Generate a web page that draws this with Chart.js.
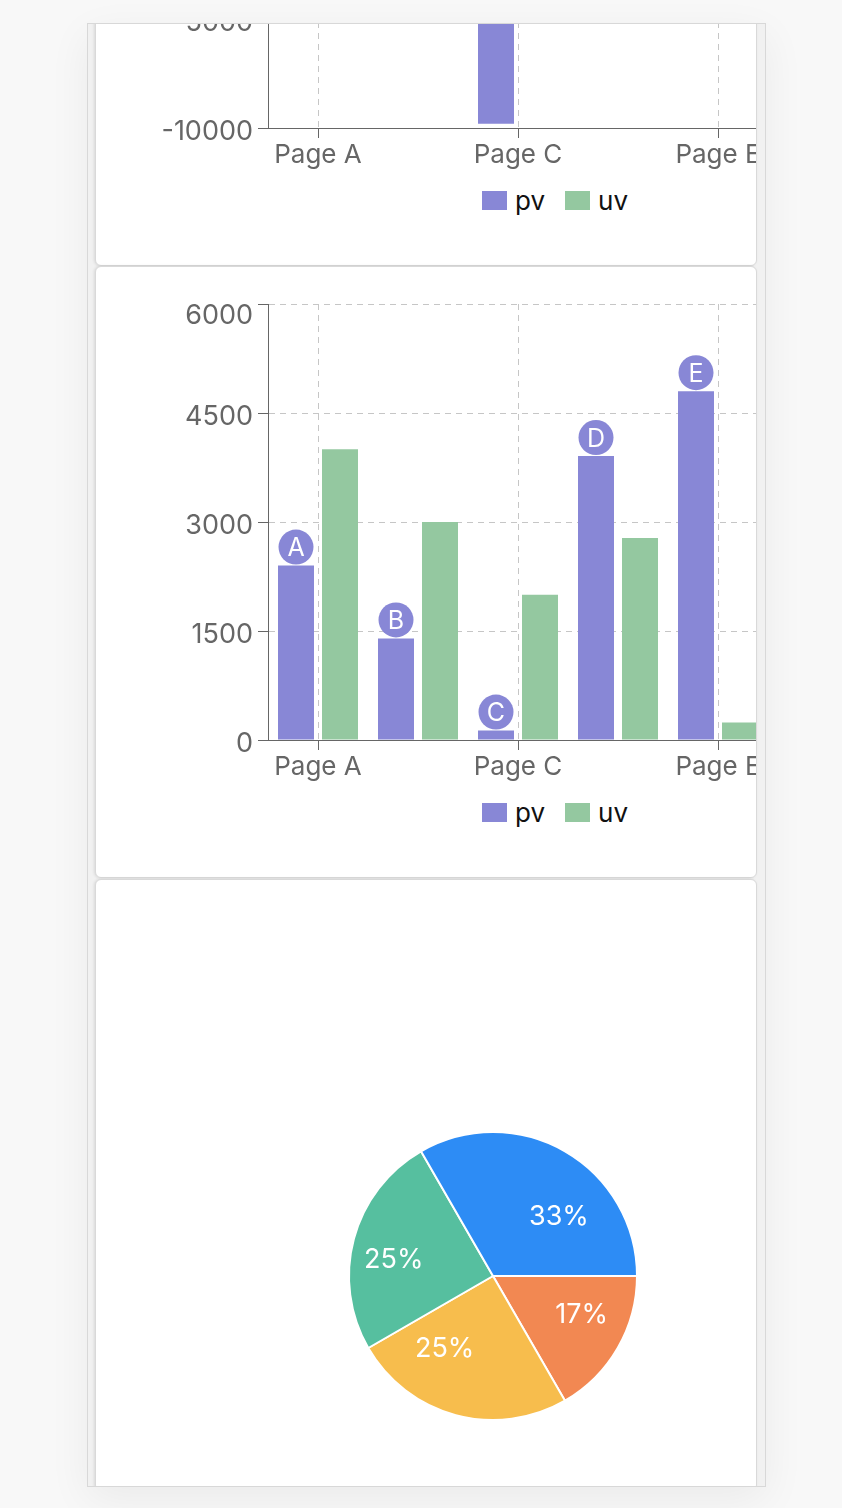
<!DOCTYPE html>
<html>
<head>
<meta charset="utf-8">
<script src="https://cdn.jsdelivr.net/npm/chart.js@4.4.1/dist/chart.umd.min.js"></script>
<style>
  html, body { margin:0; padding:0; width:842px; height:1508px; overflow:hidden; background:#f8f8f8; font-family: Inter, "Noto Sans", sans-serif; }
  #frame { position:absolute; left:87px; top:23px; width:677px; height:1462px; border:1px solid #d8d8d8; background:#f1f1f1; overflow:hidden; box-shadow:0 12px 40px rgba(0,0,0,0.06); }
  .card { position:absolute; left:7px; width:662px; height:612px; box-sizing:border-box; border:1px solid #d9d9d9; border-radius:6px; background:#fff; overflow:hidden; box-shadow:-1px 0 3px rgba(0,0,0,0.10); }
  .card canvas { position:absolute; }
  .legend { position:absolute; left:386px; top:530px; height:30px; display:flex; align-items:center; font-size:26px; color:#111; white-space:nowrap; }
  .legend .sq { display:inline-block; width:25px; height:19px; margin-right:8px; }
  .legend .item { display:flex; align-items:center; margin-right:20px; }
</style>
</head>
<body>
<div id="frame">
  <div class="card" id="card1" style="top:-370px;">
    <canvas id="c1" width="700" height="506" style="left:0;top:17px;"></canvas>
    <div class="legend" id="lg1"></div>
  </div>
  <div class="card" id="card2" style="top:242px;">
    <canvas id="c2" width="700" height="506" style="left:0;top:17px;"></canvas>
    <div class="legend" id="lg2"></div>
  </div>
  <div class="card" id="card3" style="top:855px;">
    <canvas id="c3" width="400" height="400" style="left:197px;top:196px;"></canvas>
  </div>
</div>
<script>
// ---------- data ----------
const categories = ['Page A', 'Page B', 'Page C', 'Page D', 'Page E'];
const seriesNames = ['pv', 'uv'];
// top (partly scrolled) chart
const topPv = [2400, 1398, -9800, 3908, 4800];
const topUv = [4000, -3000, -2000, 2780, -1890];
const topTicks = [-10000, -5000, 0, 5000, 10000];
// middle chart
const midPv = [2400, 1398, 130, 3908, 4800];
const midUv = [4000, 3000, 2000, 2780, 240];
const midTicks = [0, 1500, 3000, 4500, 6000];
const pvMarks = ['A', 'B', 'C', 'D', 'E'];
// pie (counter-clockwise from 3 o'clock)
const pieValues = [4, 3, 3, 2];
const pieColors = ['#2d8cf5', '#56bf9f', '#f7bd4d', '#f28852'];

const pvColor = '#8887d6';
const uvColor = '#94c8a0';
const FONT = 'Inter';
const TICK_SIZE = 26;
const YTICK_SIZE = 27;

Chart.defaults.font.family = FONT;
Chart.defaults.animation = false;

function legendHTML(el) {
  const cols = [pvColor, uvColor];
  el.innerHTML = seriesNames.map((n, i) =>
    '<span class="item"><span class="sq" style="background:' + cols[i] + '"></span>' + n + '</span>').join('');
}
legendHTML(document.getElementById('lg1'));
legendHTML(document.getElementById('lg2'));

// y-axis labels: right aligned next to tick marks, kept inside the plot's top edge
const yLabelPlugin = {
  id: 'yLabels',
  afterDraw(chart) {
    const s = chart.scales.y;
    const ctx = chart.ctx;
    const half = 0.727 * YTICK_SIZE / 2;
    ctx.save();
    ctx.font = YTICK_SIZE + 'px ' + FONT;
    ctx.fillStyle = '#666666';
    ctx.textAlign = 'right';
    ctx.textBaseline = 'alphabetic';
    s.ticks.forEach(t => {
      let yc = s.getPixelForValue(t.value) + 2;
      if (yc - half < chart.chartArea.top) yc = chart.chartArea.top + half;
      ctx.fillText(String(t.value), s.right - 15, yc + half);
    });
    ctx.restore();
  }
};

function barConfig(pv, uv, ticks, extraPlugins) {
  const min = ticks[0], max = ticks[ticks.length - 1];
  const step = ticks[1] - ticks[0];
  return {
    type: 'bar',
    data: {
      labels: categories,
      datasets: [
        { label: 'pv', data: pv, backgroundColor: pvColor, categoryPercentage: 0.88, barPercentage: 1, maxBarThickness: 36 },
        { label: 'uv', data: uv, backgroundColor: uvColor, categoryPercentage: 0.88, barPercentage: 1, maxBarThickness: 36 }
      ]
    },
    options: {
      responsive: false,
      devicePixelRatio: 1,
      animation: false,
      layout: { padding: { top: 20, right: 28, bottom: 0, left: 0 } },
      plugins: { legend: { display: false }, tooltip: { enabled: false } },
      scales: {
        x: {
          type: 'category',
          offset: true,
          grid: {
            offset: false,
            color: c => (c.index % 2 === 0 ? '#c6c6c6' : 'rgba(0,0,0,0)'),
            tickColor: c => (c.index % 2 === 0 ? '#666666' : 'rgba(0,0,0,0)'),
            tickLength: 10,
            lineWidth: 1
          },
          border: { color: '#666666', width: 1, dash: [6, 5] },
          ticks: {
            color: '#666666', font: { size: TICK_SIZE }, padding: 2, maxRotation: 0, autoSkip: false,
            callback: function (v, i) { return i % 2 === 0 ? categories[i] : ''; }
          },
          afterFit: s => { s.height = 50; }
        },
        y: {
          min: min, max: max,
          grid: {
            color: c => (c.tick && c.tick.value === min ? 'rgba(0,0,0,0)' : '#c6c6c6'),
            tickColor: '#666666',
            tickLength: 10,
            lineWidth: 1
          },
          border: { color: '#666666', width: 1, dash: [6, 5] },
          ticks: { stepSize: step, display: false },
          afterFit: s => { s.width = 172; }
        }
      }
    },
    plugins: [yLabelPlugin].concat(extraPlugins || [])
  };
}

const markPlugin = {
  id: 'pvMarks',
  afterDatasetsDraw(chart) {
    const ctx = chart.ctx;
    const meta = chart.getDatasetMeta(0);
    meta.data.forEach((bar, i) => {
      const r = 17.5;
      const cx = bar.x, cy = bar.y - r - 1;
      ctx.save();
      ctx.beginPath();
      ctx.arc(cx, cy, r, 0, Math.PI * 2);
      ctx.fillStyle = pvColor;
      ctx.fill();
      ctx.fillStyle = '#ffffff';
      ctx.font = '25px ' + FONT;
      ctx.textAlign = 'center';
      ctx.textBaseline = 'alphabetic';
      ctx.fillText(pvMarks[i], cx, cy + 9);
      ctx.restore();
    });
  }
};

new Chart(document.getElementById('c1'), barConfig(topPv, topUv, topTicks));
new Chart(document.getElementById('c2'), barConfig(midPv, midUv, midTicks, [markPlugin]));

// pie: Chart.js draws clockwise, so reverse the counter-clockwise order
const pieData = pieValues.slice().reverse();
const pieCols = pieColors.slice().reverse();
const pieTotal = pieValues.reduce((a, b) => a + b, 0);

const pieLabelPlugin = {
  id: 'pieLabels',
  afterDatasetsDraw(chart) {
    const ctx = chart.ctx;
    const meta = chart.getDatasetMeta(0);
    meta.data.forEach((arc, i) => {
      const p = arc.tooltipPosition();
      ctx.save();
      ctx.fillStyle = '#ffffff';
      ctx.font = '27px ' + FONT;
      ctx.textAlign = p.x < arc.x ? 'right' : 'left';
      ctx.textBaseline = 'alphabetic';
      ctx.fillText(Math.round(pieData[i] / pieTotal * 100) + '%', p.x, p.y + 11);
      ctx.restore();
    });
  }
};

new Chart(document.getElementById('c3'), {
  type: 'pie',
  data: {
    labels: ['s4', 's3', 's2', 's1'],
    datasets: [{ data: pieData, backgroundColor: pieCols, borderColor: '#ffffff', borderWidth: 2, radius: 144 }]
  },
  options: {
    responsive: false,
    devicePixelRatio: 1,
    animation: false,
    rotation: 90,
    plugins: { legend: { display: false }, tooltip: { enabled: false } }
  },
  plugins: [pieLabelPlugin]
});
</script>
</body>
</html>
